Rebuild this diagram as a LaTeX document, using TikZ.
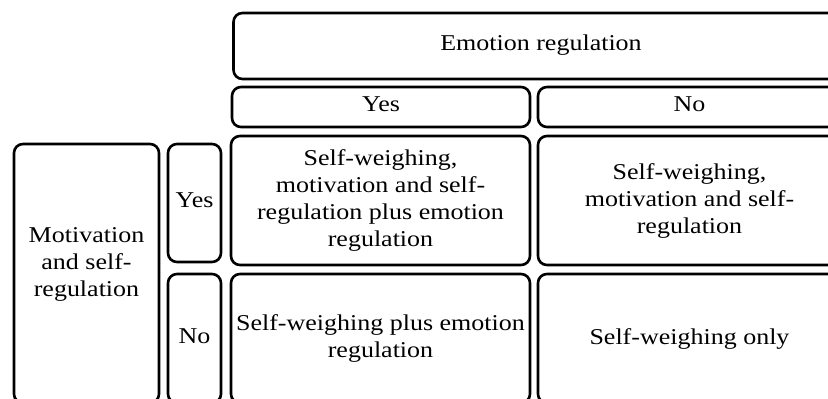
\documentclass[tikz,border=0pt]{standalone}
\usepackage{fontspec}
\setmainfont{Liberation Serif}[FakeStretch=1.15]

\begin{document}
\begin{tikzpicture}[x=1pt, y=-1pt,
    box/.style={draw, line width=2.6pt, rounded corners=9pt, align=center, inner sep=0pt,
      font=\fontsize{22.6}{27}\selectfont},
    lbl/.style={text height=15.8pt, text depth=6.8pt}]
    \useasboundingbox (0,0) rectangle (828,399);
    \clip (0,0) rectangle (828,399);
    % column heads
    \node[box, lbl, minimum width=615pt, minimum height=66pt] (emo) at (541,46) {Emotion regulation};
    \node[box, lbl, minimum width=298pt, minimum height=40pt] (coly) at (381,107) {Yes};
    \node[box, lbl, minimum width=303pt, minimum height=40pt] (coln) at (689.5,107) {No};
    % row heads
    \node[box, minimum width=145pt, minimum height=259pt] (mot) at (86.5,273.5) {};
    \node[align=center, font=\fontsize{22.6}{27}\selectfont] (motlbl) at (86.5,264) {Motivation\\and self-\\regulation};
    \node[box, lbl, minimum width=53pt, minimum height=118pt] (rowy) at (194.5,203) {Yes};
    \node[box, lbl, minimum width=53pt, minimum height=129pt] (rown) at (194.5,338.5) {No};
    % cells
    \node[box, minimum width=299pt, minimum height=129pt] (yy) at (380.5,200.5)
        {Self-weighing,\\motivation and self-\\regulation plus emotion\\regulation};
    \node[box, minimum width=303pt, minimum height=129pt] (yn) at (689.5,200.5)
        {Self-weighing,\\motivation and self-\\regulation};
    \node[box, minimum width=299pt, minimum height=129pt] (ny) at (380.5,338.5)
        {Self-weighing plus emotion\\regulation};
    \node[box, minimum width=303pt, minimum height=129pt] (nn) at (689.5,338.5) {Self-weighing only};
\end{tikzpicture}
\end{document}
